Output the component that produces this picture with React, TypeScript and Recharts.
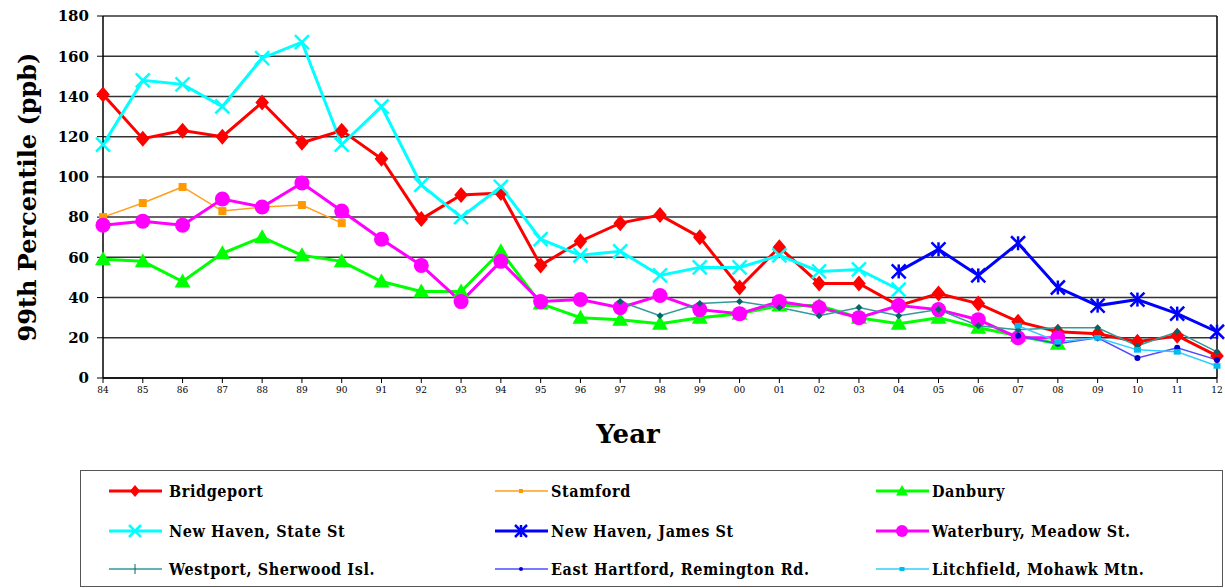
import React from 'react';
import { LineChart, Line, XAxis, YAxis, CartesianGrid, ReferenceLine } from 'recharts';

const YEARS = ['84', '85', '86', '87', '88', '89', '90', '91', '92', '93', '94', '95', '96', '97', '98', '99', '00', '01', '02', '03', '04', '05', '06', '07', '08', '09', '10', '11', '12'];

const BRIDGEPORT = [141, 119, 123, 120, 137, 117, 123, 109, 79, 91, 92, 56, 68, 77, 81, 70, 45, 65, 47, 47, 36, 42, 37, 28, 23, 22, 18, 21, 11];
const STAMFORD = [80, 87, 95, 83, 85, 86, 77, null, null, null, null, null, null, null, null, null, null, null, null, null, null, null, null, null, null, null, null, null, null];
const DANBURY = [59, 58, 48, 62, 70, 61, 58, 48, 43, 43, 63, 37, 30, 29, 27, 30, 32, 36, 36, 30, 27, 30, 25, 21, 17, null, null, null, null];
const NH_STATE = [116, 148, 146, 135, 159, 167, 116, 135, 96, 80, 95, 69, 61, 63, 51, 55, 55, 61, 53, 54, 44, null, null, null, null, null, null, null, null];
const NH_JAMES = [null, null, null, null, null, null, null, null, null, null, null, null, null, null, null, null, null, null, null, null, 53, 64, 51, 67, 45, 36, 39, 32, 23];
const WATERBURY = [76, 78, 76, 89, 85, 97, 83, 69, 56, 38, 58, 38, 39, 35, 41, 34, 32, 38, 35, 30, 36, 34, 29, 20, 20, null, null, null, null];
const WESTPORT = [null, null, null, null, null, null, null, null, null, null, null, null, null, 38, 31, 37, 38, 35, 31, 35, 31, 34, 26, 24, 25, 25, 16, 23, 13];
const EAST_HARTFORD = [null, null, null, null, null, null, null, null, null, null, null, null, null, null, null, null, null, null, null, null, null, null, null, 21, 17, 20, 10, 15, 9];
const LITCHFIELD = [null, null, null, null, null, null, null, null, null, null, null, null, null, null, null, null, null, null, null, null, null, null, null, 26, 18, 20, 14, 13, 6];

const Y_TICKS = [0, 20, 40, 60, 80, 100, 120, 140, 160, 180];

const SERIF = 'DejaVu Serif';
const SERIF_NARROW = '"DejaVu Serif Condensed", "DejaVu Serif"';

type Shape = 'diamond' | 'square' | 'triangle' | 'x' | 'star' | 'circle' | 'plus' | 'dot' | 'dash';

interface Series {
  key: string;
  name: string;
  values: (number | null)[];
  color: string;
  width: number;
  shape: Shape;
  size: number;
  markerColor: string;
}

const SERIES: Series[] = [
  { key: 'bridgeport', name: 'Bridgeport', values: BRIDGEPORT, color: '#ff0000', width: 3, shape: 'diamond', size: 8, markerColor: '#ff0000' },
  { key: 'stamford', name: 'Stamford', values: STAMFORD, color: '#ffa020', width: 1.5, shape: 'square', size: 4, markerColor: '#ff9900' },
  { key: 'danbury', name: 'Danbury', values: DANBURY, color: '#00ff00', width: 3, shape: 'triangle', size: 8, markerColor: '#00ff00' },
  { key: 'nhState', name: 'New Haven, State St', values: NH_STATE, color: '#00ffff', width: 3, shape: 'x', size: 7, markerColor: '#00ffff' },
  { key: 'nhJames', name: 'New Haven, James St', values: NH_JAMES, color: '#0000ff', width: 3, shape: 'star', size: 7, markerColor: '#0000ff' },
  { key: 'waterbury', name: 'Waterbury, Meadow St.', values: WATERBURY, color: '#ff00ff', width: 3, shape: 'circle', size: 7.5, markerColor: '#ff00ff' },
  { key: 'westport', name: 'Westport, Sherwood Isl.', values: WESTPORT, color: '#339999', width: 1.5, shape: 'plus', size: 3.5, markerColor: '#006666' },
  { key: 'eastHartford', name: 'East Hartford, Remington Rd.', values: EAST_HARTFORD, color: '#4d4dff', width: 1.5, shape: 'dot', size: 3, markerColor: '#0000cc' },
  { key: 'litchfield', name: 'Litchfield, Mohawk Mtn.', values: LITCHFIELD, color: '#33ccff', width: 1.5, shape: 'dash', size: 3.5, markerColor: '#00bbee' },
];

const data = YEARS.map((year, i) => {
  const row: Record<string, any> = { year };
  SERIES.forEach((s) => {
    row[s.key] = s.values[i];
  });
  return row;
});

const Marker = ({ shape, cx, cy, size, color }: { shape: Shape; cx: number; cy: number; size: number; color: string }) => {
  switch (shape) {
    case 'diamond':
      return <polygon points={`${cx},${cy - size} ${cx + size * 0.85},${cy} ${cx},${cy + size} ${cx - size * 0.85},${cy}`} fill={color} />;
    case 'square':
      return <rect x={cx - size} y={cy - size} width={size * 2} height={size * 2} fill={color} />;
    case 'triangle':
      return <polygon points={`${cx},${cy - size} ${cx + size},${cy + size * 0.75} ${cx - size},${cy + size * 0.75}`} fill={color} />;
    case 'x':
      return (
        <g stroke={color} strokeWidth={2.5}>
          <line x1={cx - size} y1={cy - size} x2={cx + size} y2={cy + size} />
          <line x1={cx - size} y1={cy + size} x2={cx + size} y2={cy - size} />
        </g>
      );
    case 'star':
      return (
        <g stroke={color} strokeWidth={2.5}>
          <line x1={cx - size} y1={cy - size} x2={cx + size} y2={cy + size} />
          <line x1={cx - size} y1={cy + size} x2={cx + size} y2={cy - size} />
          <line x1={cx} y1={cy - size} x2={cx} y2={cy + size} />
        </g>
      );
    case 'circle':
      return <circle cx={cx} cy={cy} r={size} fill={color} />;
    case 'plus':
      return <polygon points={`${cx},${cy - size} ${cx + size},${cy} ${cx},${cy + size} ${cx - size},${cy}`} fill={color} />;
    case 'dot':
      return <circle cx={cx} cy={cy} r={size} fill={color} />;
    case 'dash':
      return <rect x={cx - size} y={cy - size * 0.8} width={size * 2} height={size * 1.6} fill={color} />;
    default:
      return null;
  }
};

const makeDot = (s: Series) => (p: any) => {
  const k = `${s.key}-${p.index}`;
  if (p.value == null || p.cx == null || p.cy == null) return <g key={k} />;
  return (
    <g key={k}>
      <Marker shape={s.shape} cx={p.cx} cy={p.cy} size={s.size} color={s.markerColor} />
    </g>
  );
};

// "Year" sits a little left of the plot centre in the original
const YearLabel = (props: any) => {
  const vb = props.viewBox || {};
  return (
    <text
      x={vb.x + vb.width / 2 - 32}
      y={443}
      textAnchor="middle"
      fontSize={26}
      fontWeight="bold"
      fill="#000"
      fontFamily={SERIF}
    >
      Year
    </text>
  );
};

const LEGEND_COLS = [28, 414, 795];
const LEGEND_ROWS = [20, 60, 98];

const legendMarker = (s: Series) => {
  const small = s.width > 2 ? Math.min(s.size, 6) : s.shape === 'plus' ? 1 : s.shape === 'dash' ? 2.5 : 2;
  if (s.shape === 'plus') {
    return <line x1={26} y1={3} x2={26} y2={13} stroke={s.markerColor} strokeWidth={1} />;
  }
  return <Marker shape={s.shape} cx={26} cy={8} size={small} color={s.markerColor} />;
};

const ChartLegend = () => (
  <div
    style={{
      position: 'absolute',
      left: 80,
      top: 470,
      width: 1143,
      height: 117,
      border: '1.5px solid #555',
      boxSizing: 'border-box',
    }}
  >
    {SERIES.map((s, i) => (
      <div
        key={s.key}
        style={{
          position: 'absolute',
          left: LEGEND_COLS[i % 3],
          top: LEGEND_ROWS[Math.floor(i / 3)] - 10,
          height: 20,
          display: 'flex',
          alignItems: 'center',
        }}
      >
        <svg width={53} height={16} style={{ display: 'block' }}>
          <line x1={0} y1={8} x2={53} y2={8} stroke={s.color} strokeWidth={s.width} />
          {legendMarker(s)}
        </svg>
        <span
          style={{
            marginLeft: i % 3 === 0 ? 7 : 3,
            fontFamily: SERIF_NARROW,
            fontWeight: 'bold',
            fontSize: 16,
            letterSpacing: 0.6,
            color: '#000',
            whiteSpace: 'nowrap',
          }}
        >
          {s.name}
        </span>
      </div>
    ))}
  </div>
);

const App: React.FC = () => {
  return (
    <div style={{ position: 'absolute', left: 0, top: 0, width: 1225, height: 588, background: '#fff' }}>
      <LineChart width={1225} height={460} data={data} margin={{ top: 16, right: 8, left: 0, bottom: 0 }}>
        <CartesianGrid vertical={false} stroke="#333" strokeWidth={1.5} />
        <XAxis
          dataKey="year"
          interval={0}
          height={82}
          axisLine={{ stroke: '#000', strokeWidth: 1.5 }}
          tickLine={{ stroke: '#000' }}
          tickSize={5}
          tickMargin={3}
          tick={{ fill: '#000', fontSize: 10, fontFamily: SERIF_NARROW }}
          label={<YearLabel />}
        />
        <YAxis
          width={103}
          domain={[0, 180]}
          ticks={Y_TICKS}
          interval={0}
          axisLine={{ stroke: '#000', strokeWidth: 1.5 }}
          tickLine={{ stroke: '#000' }}
          tickSize={6}
          tickMargin={8}
          tick={{ fill: '#000', fontSize: 15, fontWeight: 'bold', fontFamily: SERIF }}
          label={{
            value: '99th Percentile (ppb)',
            angle: -90,
            position: 'insideLeft',
            offset: 27,
            style: { textAnchor: 'middle', fontSize: 24, fontWeight: 'bold', fill: '#000', fontFamily: SERIF },
          }}
        />
        <ReferenceLine x="12" stroke="#000" strokeWidth={1.5} />
        {SERIES.map((s) => (
          <Line
            key={s.key}
            type="linear"
            dataKey={s.key}
            name={s.name}
            stroke={s.color}
            strokeWidth={s.width}
            dot={makeDot(s)}
            activeDot={false}
            isAnimationActive={false}
          />
        ))}
      </LineChart>
      <ChartLegend />
    </div>
  );
};

export default App;
